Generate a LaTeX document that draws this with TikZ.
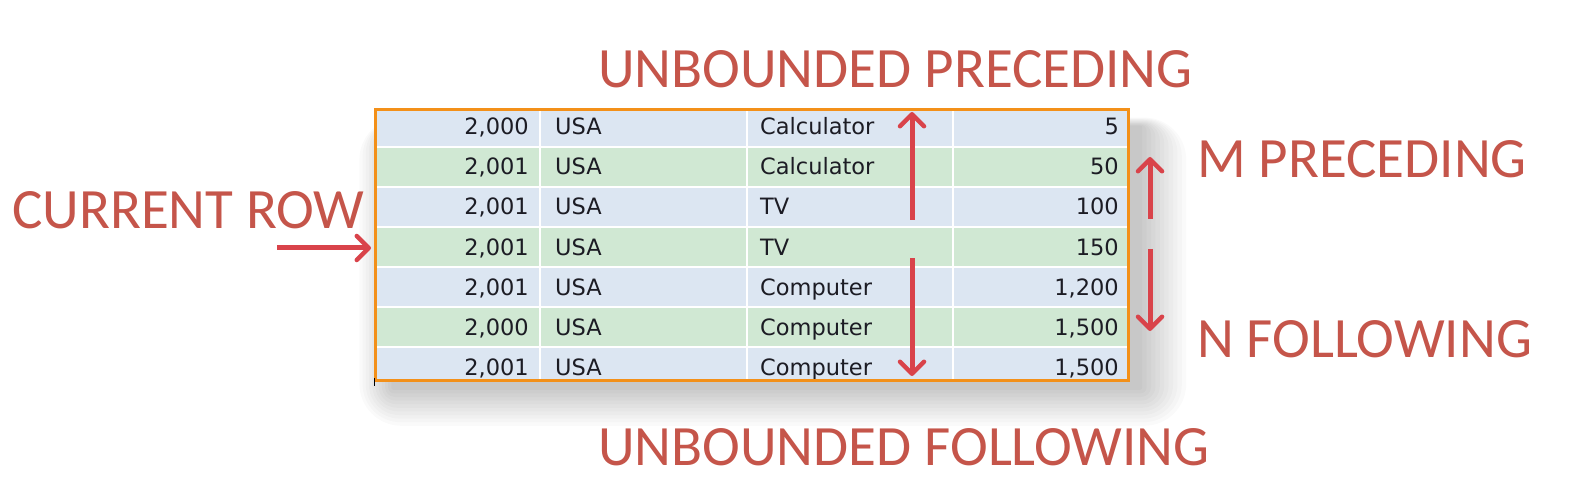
\documentclass[tikz,border=0pt]{standalone}
\usepackage{fontspec}
\setmainfont{Carlito}
\newfontfamily\cellfont{DejaVu Sans}
\usetikzlibrary{arrows.meta}
\definecolor{lblred}{HTML}{C5554A}
\definecolor{arrred}{HTML}{D9434A}
\definecolor{rowblue}{HTML}{DCE6F2}
\definecolor{rowgreen}{HTML}{D0E8D3}
\definecolor{tborder}{HTML}{F39019}
\definecolor{celltxt}{HTML}{1C1C24}
\tikzset{
  lbl/.style={font=\fontsize{57}{62}\selectfont, text=lblred, inner sep=0pt, anchor=base west},
  cellr/.style={font=\cellfont\fontsize{22.5}{26}\selectfont, text=celltxt, inner sep=0pt, anchor=base east},
  celll/.style={font=\cellfont\fontsize{22.5}{26}\selectfont, text=celltxt, inner sep=0pt, anchor=base west},
  redarrow/.style={draw=arrred, line width=5pt, -{Straight Barb[length=12pt,width=24pt,line width=4.5pt,round]}},
}
\begin{document}
\begin{tikzpicture}[x=1pt,y=-1pt]
\useasboundingbox (0,0) rectangle (1578,494);
\fill[white] (0,0) rectangle (1578,494);
% shadow
\foreach \s in {2,6,...,42}{
  \fill[black, opacity=0.02, rounded corners=\s pt] (375+18-\s*0.8,110+16-\s*0.2) rectangle (1128+12+\s*1.1,380+8+\s*0.9);
}
% rows
\begin{scope}
\clip (375,110) rectangle (1128,380);
\foreach \i in {0,...,6}{
  \pgfmathsetmacro{\yt}{107+40*\i}
  \ifodd\i \def\rc{rowgreen}\else\def\rc{rowblue}\fi
  \fill[\rc] (375,\yt) rectangle (1128,\yt+40);
}
\foreach \i in {1,...,6}{
  \draw[white, line width=2pt] (375,107+40*\i) -- (1128,107+40*\i);
}
\foreach \x in {540,747,953}{
  \draw[white, line width=2pt] (\x,107) -- (\x,380);
}
\end{scope}
% cell texts
\foreach [count=\i from 0] \a/\b/\c/\d in {{2,000}/USA/Calculator/5, {2,001}/USA/Calculator/50, {2,001}/USA/TV/100, {2,001}/USA/TV/150, {2,001}/USA/Computer/{1,200}, {2,000}/USA/Computer/{1,500}, {2,001}/USA/Computer/{1,500}}{
  \node[cellr] (ca\i) at (529,135+40*\i) {\a};
  \node[celll] (cb\i) at (555,135+40*\i) {\b};
  \node[celll] (cc\i) at (760,135+40*\i) {\c};
  \node[cellr] (cd\i) at (1119,135+40*\i) {\d};
}
% border
\draw[tborder, line width=3pt] (375,110) rectangle (1128,380);
\draw[black, line width=1pt] (374.5,378) -- (374.5,386);
% labels
\node[lbl] (cur) at (12,229) {CURRENT ROW};
\node[lbl] (up) at (598,88) {UNBOUNDED PRECEDING};
\node[lbl] (mp) at (1197,178) {M PRECEDING};
\node[lbl] (nf) at (1197,357) {N FOLLOWING};
\node[lbl] (uf) at (598,465) {UNBOUNDED FOLLOWING};
% arrows
\coordinate (c1s) at (277,248); \coordinate (c1e) at (371,248);
\coordinate (u1s) at (912,220); \coordinate (u1e) at (912,112);
\coordinate (u2s) at (912,258); \coordinate (u2e) at (912,376);
\coordinate (m1s) at (1150,219); \coordinate (m1e) at (1150,157);
\coordinate (n1s) at (1150,249); \coordinate (n1e) at (1150,331);
\draw[redarrow] (c1s) -- (c1e);
\draw[redarrow] (u1s) -- (u1e);
\draw[redarrow] (u2s) -- (u2e);
\draw[redarrow] (m1s) -- (m1e);
\draw[redarrow] (n1s) -- (n1e);
\end{tikzpicture}
\end{document}
